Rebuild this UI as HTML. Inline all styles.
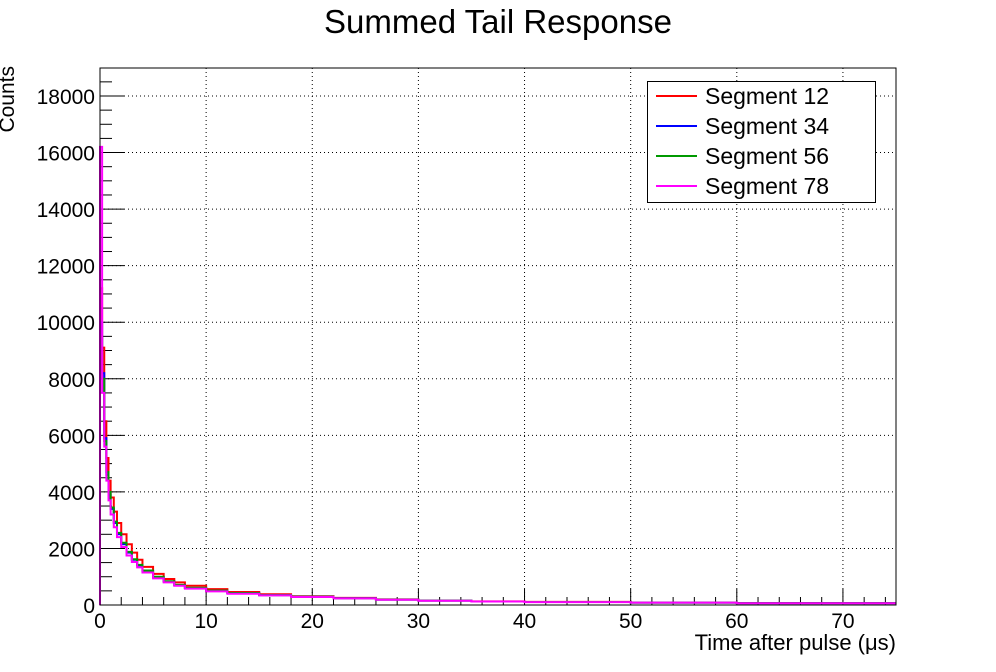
<!DOCTYPE html>
<html><head><meta charset="utf-8"><style>
body{margin:0;background:#fff;}
svg{display:block;font-family:"Liberation Sans",sans-serif;}
</style></head><body>
<svg id="c" width="996" height="672"></svg>
<script>
const edges=[0,0.2,0.4,0.6,0.8,1.0,1.3,1.6,2,2.5,3,3.5,4,5,6,7,8,10,12,15,18,22,26,30,35,40,50,60,75];
const seg12=[11200,9100,6500,5200,4400,3800,3300,2900,2500,2150,1850,1600,1350,1100,920,800,680,560,460,380,310,250,200,160,130,110,90,70];
const seg34=[10000,8200,5900,4600,3900,3400,2900,2500,2150,1850,1600,1400,1200,980,830,700,600,500,420,350,290,240,190,155,125,105,85,65];
const seg56=[9500,8000,5800,4700,4000,3450,2950,2550,2200,1880,1620,1420,1220,1000,840,710,610,510,425,350,290,240,190,155,125,105,85,65];
const seg78=[16200,7500,5600,4400,3700,3200,2750,2400,2050,1750,1520,1330,1150,940,800,680,580,480,400,340,285,235,185,150,122,100,82,62];
const xTicks=[0,10,20,30,40,50,60,70];
const yTicks=[0,2000,4000,6000,8000,10000,12000,14000,16000,18000];
const series=[{name:"Segment 12",v:seg12,c:"#ff0000"},{name:"Segment 34",v:seg34,c:"#0000ff"},{name:"Segment 56",v:seg56,c:"#009900"},{name:"Segment 78",v:seg78,c:"#ff00ff"}];
const L=100,R=896,T=68,B=605,XMAX=75,YMAX=18990;
const sx=t=>L+(R-L)*t/XMAX, sy=v=>B-(B-T)*v/YMAX;
const svg=document.getElementById('c');const NS="http://www.w3.org/2000/svg";
function mk(tag,attrs,parent){const e=document.createElementNS(NS,tag);for(const k in attrs)e.setAttribute(k,attrs[k]);(parent||svg).appendChild(e);return e;}
xTicks.forEach(t=>{if(t>0){const g=mk('line',{x1:sx(t),x2:sx(t),y1:T,y2:B,stroke:'#000','stroke-dasharray':'1,3','stroke-width':1});

}});
yTicks.forEach(v=>{if(v>0){const g=mk('line',{x1:L,x2:R,y1:sy(v),y2:sy(v),stroke:'#000','stroke-dasharray':'1,3','stroke-width':1});

}});
for(let t=0;t<=XMAX;t+=2){const isM=t%10===0;mk('line',{x1:sx(t),x2:sx(t),y1:B,y2:B-(isM?16:8),stroke:'#000'});}
for(let v=0;v<=YMAX;v+=500){const isM=v%2000===0;mk('line',{x1:L,x2:L+(isM?24:12),y1:sy(v),y2:sy(v),stroke:'#000'});}
series.forEach(s=>{let d=`M${sx(edges[0])},${sy(0)}`;s.v.forEach((v,i)=>{d+=` L${sx(edges[i])},${sy(v)} L${sx(edges[i+1])},${sy(v)}`;});
const p=mk('path',{d:d,fill:'none',stroke:s.c,'stroke-width':2});

});
const f=mk('rect',{x:L,y:T,width:R-L,height:B-T,fill:'none',stroke:'#000','stroke-width':1});


xTicks.forEach(t=>{const e=mk('text',{x:sx(t),y:628,'font-size':21,'text-anchor':'middle'});e.textContent=t;

});
yTicks.forEach(v=>{const e=mk('text',{x:95,y:sy(v)+8,'font-size':21,'text-anchor':'end'});e.textContent=v;

});
const title=mk('text',{x:498,y:33,'font-size':33,'text-anchor':'middle'});title.textContent="Summed Tail Response";


const xt=mk('text',{x:896,y:650,'font-size':22,'text-anchor':'end'});xt.textContent="Time after pulse (\u03bcs)";


const yt=mk('text',{x:0,y:0,'font-size':21,'text-anchor':'end',transform:'translate(14,66) rotate(-90)'});yt.textContent="Counts";


const lg=mk('g',{});


mk('rect',{x:647.5,y:81.5,width:228,height:121,fill:'#fff',stroke:'#000'},lg);
series.forEach((s,i)=>{const y=96+30*i;const ge=mk('g',{},lg);


mk('line',{x1:656,x2:697,y1:y,y2:y,stroke:s.c,'stroke-width':2},ge);
const t=mk('text',{x:705,y:y+8,'font-size':23},ge);t.textContent=s.name;});
</script>
</body></html>
